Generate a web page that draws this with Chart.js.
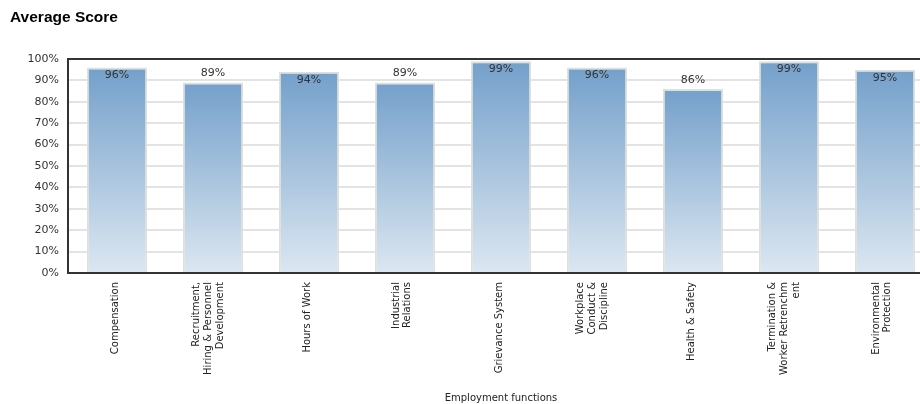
<!DOCTYPE html>
<html>
<head>
<meta charset="utf-8">
<script src="https://cdn.jsdelivr.net/npm/chart.js@4/dist/chart.umd.min.js"></script>
<style>
  html, body { margin: 0; padding: 0; background: #fff; overflow: hidden; }
  #wrap { position: absolute; left: 0; top: 0; width: 936px; height: 404px; }
</style>
</head>
<body>
<div id="wrap"><canvas id="myChart" width="936" height="404"></canvas></div>
<script>
const categories = [
	'Compensation',
	['Recruitment,', 'Hiring & Personnel', 'Development'],
	'Hours of Work',
	['Industrial', 'Relations'],
	'Grievance System',
	['Workplace', 'Conduct &', 'Discipline'],
	'Health & Safety',
	['Termination &', 'Worker Retrenchm', 'ent'],
	['Environmental', 'Protection']
];
const scores = [96, 89, 94, 89, 99, 96, 86, 99, 95];
const yTicks = [0, 10, 20, 30, 40, 50, 60, 70, 80, 90, 100];

const ctx = document.getElementById('myChart');

// gradient from the top of each bar down to zero
function barFill(c) {
	const chart = c.chart;
	const area = chart.chartArea;
	if (!area || c.raw === undefined) return '#9dbad8';
	const y = chart.scales.y;
	const top = y.getPixelForValue(c.raw);
	const base = y.getPixelForValue(0);
	const g = chart.ctx.createLinearGradient(0, top, 0, base);
	g.addColorStop(0, '#74a0cb');
	g.addColorStop(1, '#dce7f1');
	return g;
}

// center multi-line rotated tick labels on their category
const centerLabels = {
	id: 'centerLabels',
	beforeDraw(chart) {
		const items = chart.scales.x.getLabelItems(chart.chartArea);
		items.forEach(it => {
			if (it._centered) return;
			const n = Array.isArray(it.label) ? it.label.length : 1;
			const lh = it.font.lineHeight;
			it.textOffset = lh / 2 - (n - 1) * lh / 2 - 1.5 * n;
			it._centered = true;
		});
	}
};

const valueLabels = {
	id: 'valueLabels',
	afterDatasetsDraw(chart) {
		const c = chart.ctx;
		const meta = chart.getDatasetMeta(0);
		c.save();
		c.font = '11px "DejaVu Sans"';
		c.fillStyle = '#333';
		c.textAlign = 'center';
		c.textBaseline = 'middle';
		meta.data.forEach((bar, i) => {
			const v = scores[i];
			const y = v >= 90 ? bar.y + 8 : bar.y - 9;
			c.fillText(v + '%', bar.x, y);
		});
		c.restore();
	}
};

const frame = {
	id: 'frame',
	afterDraw(chart) {
		const a = chart.chartArea;
		const c = chart.ctx;
		c.save();
		c.strokeStyle = '#333';
		c.lineWidth = 2;
		c.strokeRect(a.left - 1, a.top, a.right - a.left + 1, a.bottom - a.top);
		c.restore();
	}
};

const myChart = new Chart(ctx, {
	type: 'bar',
	data: {
		labels: categories,
		datasets: [{
			data: scores,
			backgroundColor: barFill,
			borderColor: '#dde1da',
			borderWidth: 2,
			borderSkipped: 'bottom',
			barPercentage: 0.63,
			categoryPercentage: 1
		}]
	},
	options: {
		responsive: false,
		animation: false,
		layout: { padding: { left: 10, right: 3, top: 0, bottom: 0 } },
		plugins: {
			legend: { display: false },
			tooltip: { enabled: false },
			title: {
				display: true,
				text: 'Average Score',
				align: 'start',
				color: '#000',
				font: { family: '"Liberation Sans", Arial, sans-serif', size: 15.5, weight: 'bold' },
				padding: { top: 8, bottom: 32.4 }
			}
		},
		scales: {
			y: {
				min: 0,
				max: 100,
				afterBuildTicks(scale) {
					scale.ticks = yTicks.map(v => ({ value: v }));
				},
				afterFit(scale) { scale.width = 59; },
				border: { display: false },
				grid: { color: '#e3e3e3', lineWidth: 2, drawTicks: false },
				ticks: {
					padding: 10,
					color: '#333',
					font: { family: '"DejaVu Sans"', size: 11 },
					callback: v => v + '%'
				}
			},
			x: {
				afterFit(scale) { scale.height = 131; },
				border: { display: false },
				grid: { display: false, drawTicks: false },
				ticks: {
					minRotation: 90,
					maxRotation: 90,
					autoSkip: false,
					padding: 9,
					color: '#222',
					font: { family: '"DejaVu Sans"', size: 10, lineHeight: 1.17 }
				},
				title: {
					display: true,
					text: 'Employment functions',
					color: '#222',
					font: { family: '"DejaVu Sans"', size: 10 },
					padding: { top: 2, bottom: 0 }
				}
			}
		}
	},
	plugins: [centerLabels, valueLabels, frame]
});
</script>
</body>
</html>
